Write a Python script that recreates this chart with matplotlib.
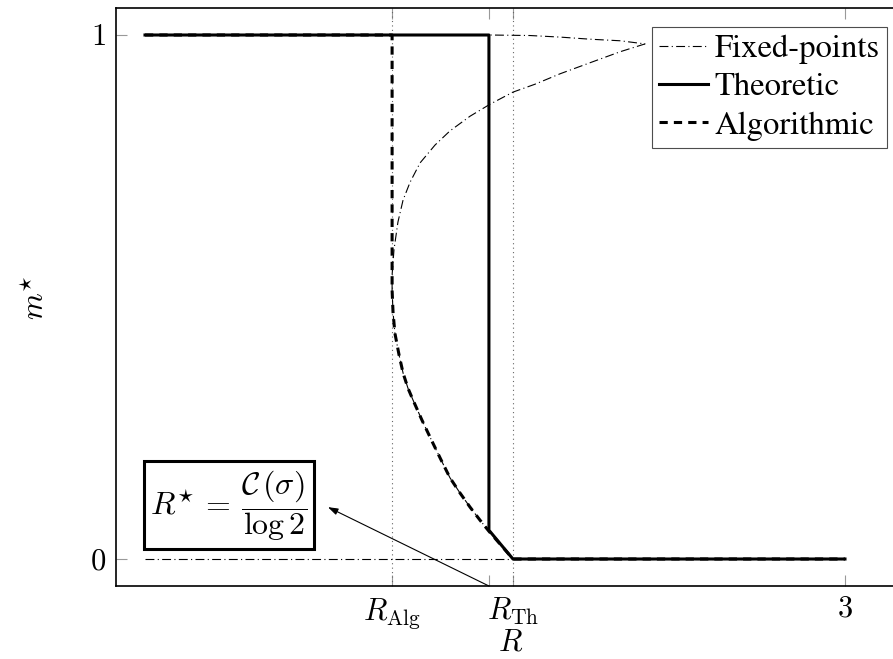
import matplotlib
matplotlib.use("Agg")
from matplotlib import pyplot as plt

plt.rcParams['mathtext.fontset'] = 'cm'
plt.rcParams['font.family'] = ['STIXGeneral', 'DejaVu Serif']

# thresholds on the R axis
r_alg = 1.059
r_jump = 1.474
r_th = 1.577
r_max = 3.0

# theoretic magnetisation
theo_r = [0, r_jump, r_jump, r_th, r_max]
theo_m = [1, 1, 0.055, 0, 0]

# lower (stable) branch, shared by fixed points and algorithmic curve
low_r = [1.059, 1.063, 1.071, 1.089, 1.106, 1.127, 1.149, 1.187, 1.234,
         1.269, 1.307, 1.350, 1.393, 1.436, 1.474, 1.577]
low_m = [0.513, 0.471, 0.431, 0.389, 0.355, 0.326, 0.303, 0.265, 0.221,
         0.189, 0.155, 0.126, 0.099, 0.074, 0.053, 0]

# upper branch and middle (unstable) branch up to the fold
up_r = [0, 1.474, 1.650, 1.779, 1.907, 2.036, 2.143]
up_m = [1, 1, 0.999, 0.996, 0.992, 0.989, 0.983]
mid_r = [2.036, 1.907, 1.779, 1.671, 1.577, 1.479, 1.393, 1.307, 1.243,
         1.179, 1.136, 1.106, 1.084, 1.067, 1.059]
mid_m = [0.968, 0.947, 0.926, 0.906, 0.891, 0.868, 0.845, 0.817, 0.790,
         0.756, 0.719, 0.685, 0.643, 0.590, 0.542]

fp_r = up_r + mid_r + low_r
fp_m = up_m + mid_m + low_m
# trivial fixed point
fp0_r = [0, r_max]
fp0_m = [0, 0]

# algorithmic magnetisation
alg_r = [0, r_alg] + low_r + [r_max]
alg_m = [1, 1] + low_m + [0]

xticks = [r_alg, r_jump, r_th, r_max]
xtick_labels = [r'$R_{\mathrm{Alg}}$', '', r'$R_{\mathrm{Th}}$', r'$3$']
yticks = [0, 1]
ytick_labels = [r'$0$', r'$1$']

fig = plt.figure(figsize=(8.93, 6.59), dpi=100)
ax = fig.add_axes([116 / 893, 73 / 659, (905 - 116) / 893, (586 - 8) / 659])

ax.axvline(r_alg, ls=(0, (1, 3)), lw=0.8, color='0.4')
ax.axvline(r_th, ls=(0, (1, 3)), lw=0.8, color='0.4')

dashdot = (0, (8, 3, 1, 3))
ax.plot(fp_r, fp_m, color='black', lw=0.8, ls=dashdot, label='Fixed-points')
ax.plot(fp0_r, fp0_m, color='black', lw=0.8, ls=dashdot)
ax.plot(theo_r, theo_m, color='black', lw=2.2, label='Theoretic')
ax.plot(alg_r, alg_m, color='black', lw=2.2, ls=(0, (2.7, 2.0)), label='Algorithmic')

ax.set_xlim(-29 / 233.33, (905 - 145) / 233.33)
ax.set_ylim(-27 / 524, 1 + 27 / 524)

ax.set_xticks(xticks)
ax.set_xticklabels(xtick_labels)
ax.set_yticks(yticks)
ax.set_yticklabels(ytick_labels)
ax.tick_params(direction='in', length=8, width=0.8, color='0.6',
               top=True, right=True, labelsize=22, pad=7)
for sp in ax.spines.values():
    sp.set_linewidth(1.2)

ax.set_xlabel(r'$R$', fontsize=22, labelpad=-1)
ax.set_ylabel(r'$m^{\star}$', fontsize=22, labelpad=28)

ax.text(0.36, 0.103, r'$R^{\star}\, =\, \dfrac{\mathcal{C}\,(\sigma)}{\log 2}$',
        fontsize=23, ha='center', va='center',
        bbox=dict(boxstyle='square,pad=0.2', fc='white', ec='black', lw=2.2))
ax.annotate('', xy=(0.784, 0.099), xytext=(r_jump, ax.get_ylim()[0]),
            arrowprops=dict(arrowstyle='-|>,head_length=0.6,head_width=0.2',
                            color='black', lw=0.8, shrinkA=0, shrinkB=0))

leg = ax.legend(loc='upper right', bbox_to_anchor=(887 / 893, 1 - 27 / 659),
                bbox_transform=fig.transFigure, borderaxespad=0,
                prop={'family': 'STIXGeneral', 'size': 23.5},
                fancybox=False, framealpha=1, edgecolor='0.3',
                handlelength=1.5, handletextpad=0.2, labelspacing=0.26,
                borderpad=0.22)
leg.get_frame().set_linewidth(0.8)

plt.savefig('out.png', dpi=100)
